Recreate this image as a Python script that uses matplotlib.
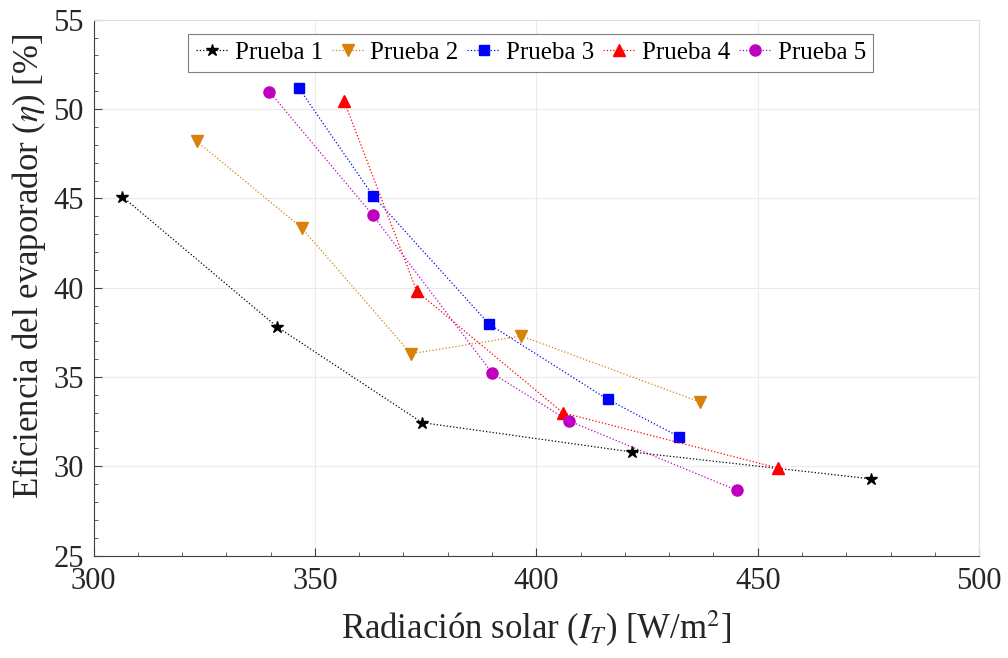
import numpy as np
import matplotlib
matplotlib.use("Agg")
import matplotlib.pyplot as plt
from matplotlib.ticker import MultipleLocator

plt.rcParams['font.family'] = ['Liberation Serif', 'DejaVu Serif']
plt.rcParams['mathtext.fontset'] = 'stix'

# data
x1 = [306.5, 341.5, 374.2, 421.7, 475.6]
y1 = [45.1, 37.8, 32.45, 30.8, 29.3]
x2 = [323.3, 347.0, 371.7, 396.6, 437.0]
y2 = [48.2, 43.35, 36.3, 37.3, 33.6]
x3 = [346.3, 363.1, 389.4, 416.1, 432.3]
y3 = [51.2, 45.15, 37.95, 33.75, 31.65]
x4 = [356.6, 373.0, 406.0, 454.7]
y4 = [50.45, 39.8, 33.0, 29.9]
x5 = [339.7, 363.1, 390.1, 407.3, 445.4]
y5 = [50.98, 44.05, 35.2, 32.55, 28.65]

series = [
    (x1, y1, 'k', '*', 9, "Prueba 1"),
    (x2, y2, '#D9820B', 'v', 9, "Prueba 2"),
    (x3, y3, '#0000FF', 's', 7, "Prueba 3"),
    (x4, y4, '#FF0000', '^', 9, "Prueba 4"),
    (x5, y5, '#BF00BF', 'o', 8, "Prueba 5"),
]

fig = plt.figure(figsize=(10.08, 6.58), dpi=100)
ax = fig.add_axes([0.0928, 0.1555, 0.8785, 0.8145])

for xs, ys, col, mk, ms, lab in series:
    ax.plot(xs, ys, linestyle=':', linewidth=0.9, color=col, marker=mk,
            markersize=ms, markerfacecolor=col, markeredgecolor=col, label=lab)

ax.set_xlim(300, 500)
ax.set_ylim(25, 55)
ax.xaxis.set_major_locator(MultipleLocator(50))
ax.xaxis.set_minor_locator(MultipleLocator(10))
ax.yaxis.set_major_locator(MultipleLocator(5))
ax.yaxis.set_minor_locator(MultipleLocator(1))
ax.tick_params(which='both', direction='in', colors='#404040', labelcolor='#262626',
               labelsize=22)
ax.tick_params(which='major', length=6)
ax.tick_params(which='minor', length=3)
ax.tick_params(axis='x', pad=8)
ax.tick_params(axis='y', pad=7)
ax.grid(True, which='major', color='#EBEBEB', linewidth=0.8)
ax.set_axisbelow(True)
for s in ('top', 'right'):
    ax.spines[s].set_color('#E0E0E0')
for s in ('left', 'bottom'):
    ax.spines[s].set_color('#404040')

ax.set_xlabel("Radiación solar ($I_T$) [W/m$^2$]", fontsize=25, color='#262626',
              labelpad=9)
ax.set_ylabel("Eficiencia del evaporador ($\\eta$) [%]", fontsize=25, color='#262626')
ax.yaxis.set_label_coords(-0.051, 0.54)

leg = ax.legend(loc='upper center', bbox_to_anchor=(0.494, 0.973), ncol=5,
                fontsize=18, fancybox=False, edgecolor='#808080', framealpha=1,
                handlelength=1.3, handletextpad=0.25, columnspacing=0.35,
                borderpad=0.3, borderaxespad=0.0)
leg.get_frame().set_linewidth(0.8)

fig.savefig("out.png", dpi=100)
